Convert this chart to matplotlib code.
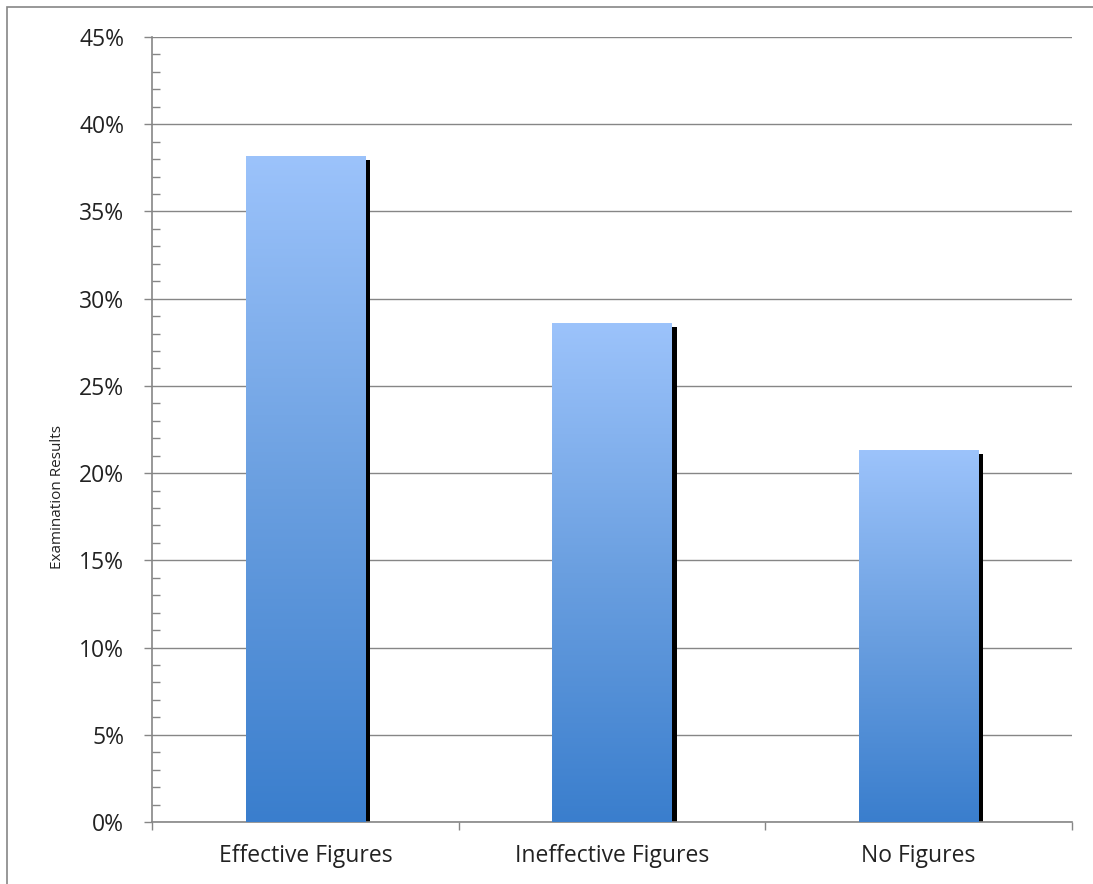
import matplotlib
matplotlib.use("Agg")
import matplotlib.pyplot as plt
import matplotlib.transforms as mtransforms
from matplotlib.ticker import MultipleLocator, PercentFormatter
from matplotlib.colors import LinearSegmentedColormap
from matplotlib.patches import Rectangle
import numpy as np

categories = ["Effective Figures", "Ineffective Figures", "No Figures"]
results = [38.2, 28.6, 21.3]  # percent

plt.rcParams['font.family'] = ['Open Sans', 'DejaVu Sans']

fig = plt.figure(figsize=(10.93, 8.84), dpi=100)
ax = fig.add_axes([152 / 1093, 1 - 822 / 884, (1072 - 152) / 1093, (822 - 37) / 884])

# gray frame around the chart area
fig.patches.append(Rectangle((7 / 1093, -0.01), 1.02, 1 - 7 / 884 + 0.01,
                             transform=fig.transFigure, fill=False,
                             edgecolor='#868686', linewidth=1.2))

grad = LinearSegmentedColormap.from_list('bluegrad', ['#3a7ecd', '#6a9fe0', '#9cc3fb'])
x = np.arange(len(categories))
width = 0.39
shadow_off = mtransforms.offset_copy(ax.transData, fig=fig, x=5, y=-4, units='dots')

for xi, val in zip(x, results):
    # black drop shadow behind the bar
    ax.add_patch(Rectangle((xi - width / 2, 0), width, val, transform=shadow_off,
                           facecolor='black', edgecolor='none', zorder=2))
    bar = Rectangle((xi - width / 2, 0), width, val, facecolor='none',
                    edgecolor='none', zorder=3)
    ax.add_patch(bar)
    img = ax.imshow(np.linspace(0, 1, 256).reshape(-1, 1), cmap=grad, origin='lower',
                    extent=(xi - width / 2, xi + width / 2, 0, val), aspect='auto',
                    zorder=3)
    img.set_clip_path(bar)

ax.set_xlim(-0.5, len(categories) - 0.5)
ax.set_ylim(0, 45)
ax.set_aspect('auto')

ax.yaxis.set_major_locator(MultipleLocator(5))
ax.yaxis.set_minor_locator(MultipleLocator(1))
ax.yaxis.set_major_formatter(PercentFormatter(decimals=0))
ax.grid(axis='y', which='major', color='#868686', linewidth=1.0, zorder=1)
ax.set_axisbelow(True)

ax.set_xticks(x)
ax.set_xticklabels(categories, fontsize=16.5, color='#222222')
ax.set_xticks(np.arange(len(categories) + 1) - 0.5, minor=True)
ax.tick_params(axis='x', which='major', length=0, pad=16)
ax.tick_params(axis='x', which='minor', length=6, width=1, color='#868686', direction='out')
ax.tick_params(axis='y', which='major', length=6, width=1, color='#868686', direction='out',
               labelsize=16.5, labelcolor='#222222', pad=14)
ax.tick_params(axis='y', which='minor', length=6, width=1, color='#868686', direction='in')

for s in ['top', 'right']:
    ax.spines[s].set_visible(False)
for s in ['left', 'bottom']:
    ax.spines[s].set_color('#868686')
    ax.spines[s].set_linewidth(1.2)

fig.text(58 / 1093, 1 - 497 / 884, 'Examination Results', rotation=90, fontsize=11,
         color='#222222', ha='center', va='center')

fig.savefig('out.png', dpi=100)
